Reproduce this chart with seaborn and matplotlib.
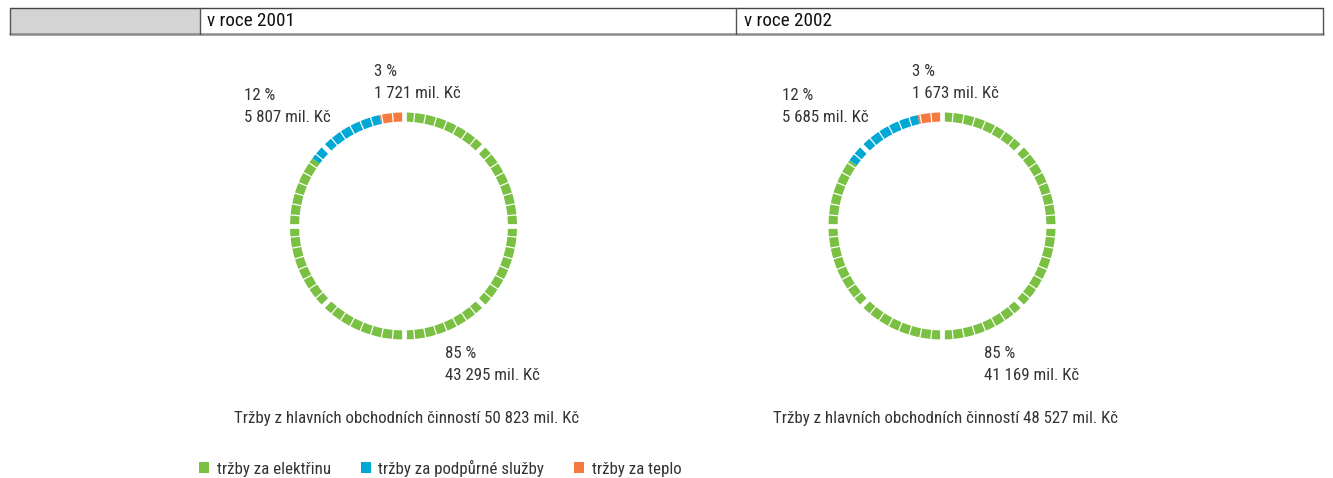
import numpy as np
import seaborn as sns
import matplotlib.pyplot as plt
from matplotlib.patches import Rectangle, Patch
from matplotlib import font_manager

# data
years = ["v roce 2001", "v roce 2002"]
categories = ["tržby za elektřinu", "tržby za podpůrné služby", "tržby za teplo"]
values_2001 = [43295, 5807, 1721]
values_2002 = [41169, 5685, 1673]
pct_2001 = [85, 12, 3]
pct_2002 = [85, 12, 3]
totals = [50823, 48527]

colors = sns.color_palette(["#7AC143", "#00A8D6", "#F47A40"])

sns.set_theme(style="white")
names = {f.name for f in font_manager.fontManager.ttflist}
fams = [n for n in ['Roboto Condensed', 'Liberation Sans Narrow', 'Roboto'] if n in names]
plt.rcParams['font.family'] = fams + ['DejaVu Sans']
TXT = "#333333"
FS = 12.2

W, H = 1333, 478
fig = plt.figure(figsize=(W / 100, H / 100), dpi=100)


def fx(x):
    return x / W


def fy(y):
    return 1 - y / H


def fmt(v):
    return f"{v:,}".replace(",", " ") + " mil. Kč"


# header bar
fig.patches.append(Rectangle((fx(10), fy(34)), fx(190), 26 / H, transform=fig.transFigure,
                             facecolor="#D4D4D4", edgecolor="none"))
fig.lines.append(plt.Line2D([fx(10), fx(1323)], [fy(8), fy(8)], transform=fig.transFigure,
                            color="#444444", lw=1.0))
fig.lines.append(plt.Line2D([fx(10), fx(1323)], [fy(34), fy(34)], transform=fig.transFigure,
                            color="#8A8A8A", lw=1.8))
for xv in [10, 200, 736, 1323]:
    fig.lines.append(plt.Line2D([fx(xv), fx(xv)], [fy(8), fy(34)], transform=fig.transFigure,
                                color="#555555", lw=1.0))
for xh, label in zip([207, 744], years):
    fig.text(fx(xh), fy(21), label, fontsize=13.8, color="#111111", va="center", ha="left")

centers = [(403.5, 226), (942, 226)]
R = 113.5
span = 1.2
for (cx, cy), vals, pcts, total in zip(centers, [values_2001, values_2002],
                                        [pct_2001, pct_2002], totals):
    size = 2 * span * R
    ax = fig.add_axes([fx(cx - size / 2), fy(cy + size / 2), size / W, size / H])
    ax.pie(vals, colors=colors, startangle=90, counterclock=False,
           wedgeprops=dict(width=0.08, edgecolor="none"))
    # dash separators
    for k in range(64):
        a = np.deg2rad(90 - k * 360 / 64)
        lw = 3.4 if k % 8 == 0 else 0.9
        ax.plot([0.85 * np.cos(a), 1.05 * np.cos(a)], [0.85 * np.sin(a), 1.05 * np.sin(a)],
                color="white", lw=lw, solid_capstyle="butt")
    ax.set_xlim(-span, span)
    ax.set_ylim(-span, span)
    ax.set_aspect("equal")
    ax.axis("off")

    # labels
    offsets = [(41.5, 128), (-159.5, -130), (-29.5, -155)]
    for (dx, dy), v, p in zip(offsets, vals, pcts):
        fig.text(fx(cx + dx), fy(cy + dy), f"{p} %", fontsize=FS, color=TXT, va="center")
        fig.text(fx(cx + dx), fy(cy + dy + 22), fmt(v), fontsize=FS, color=TXT, va="center")
    fig.text(fx(cx + 3.5), fy(418), "Tržby z hlavních obchodních činností " + fmt(total),
             fontsize=FS, color=TXT, ha="center", va="center")

handles = [Patch(facecolor=c, edgecolor="none") for c in colors]
leg = fig.legend(handles, categories, loc="center left", bbox_to_anchor=(fx(199), fy(468)),
                 ncol=3, frameon=False, fontsize=FS, handlelength=0.6, handleheight=0.6,
                 handletextpad=0.45, columnspacing=1.75, borderpad=0, borderaxespad=0)
for t in leg.get_texts():
    t.set_color(TXT)

fig.savefig("out.png", dpi=100)
